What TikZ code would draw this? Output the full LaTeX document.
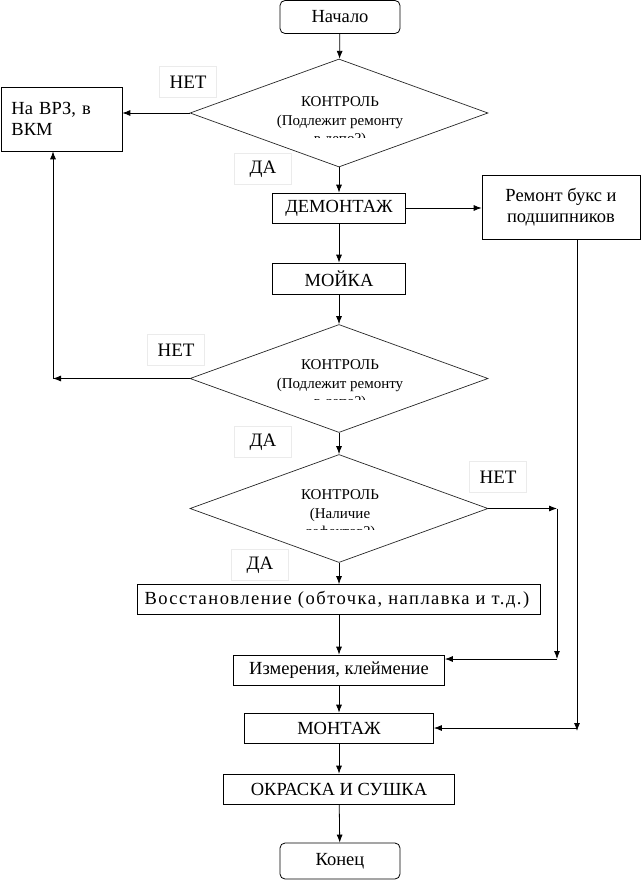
\documentclass[tikz,border=0pt]{standalone}
\usepackage{fontspec}
\setmainfont{Liberation Serif}
\usetikzlibrary{shapes.geometric,arrows.meta,positioning}

\begin{document}
\begin{tikzpicture}[
    x=1pt, y=-1pt,
    font=\fontsize{18.5}{21}\selectfont,
    terminal/.style={
        rectangle, rounded corners=5pt, draw=black, line width=0.8pt,
        minimum width=120, minimum height=33, inner sep=0pt
    },
    process/.style={
        rectangle, draw=black, line width=0.7pt,
        minimum height=30, inner sep=0pt
    },
    decision/.style={
        diamond, draw=black!85, line width=0.7pt,
        minimum width=298, minimum height=108, inner sep=0pt
    },
    ctrlText/.style={
        align=center, inner sep=0pt, font=\fontsize{15}{18.5}\selectfont
    },
    answer/.style={
        rectangle, draw=black!8, fill=white, line width=0.6pt,
        minimum width=57, minimum height=31, inner sep=0pt,
        font=\fontsize{19}{21}\selectfont
    },
    flowEdge/.style={
        -{Latex[length=8pt, width=6pt]}, line width=0.8pt, draw=black
    }
]
\useasboundingbox (0,0) rectangle (643,880);

% Start and first check
\node[terminal] (start) at (340,17) {Начало};
\node[decision] (ctrl1) at (339,113) {};
\begin{scope}
    \clip (240,90) rectangle (440,137);
    \node[ctrlText] (ctrl1text) at (340,122) {КОНТРОЛЬ\\(Подлежит ремонту\\в депо?)};
\end{scope}
\node[answer] (no1) at (188,82) {НЕТ};
\node[answer] (yes1) at (263,169) {ДА};
\node[process, minimum width=121, minimum height=64, text width=100, align=left] (vrz) at (61.5,119) {На ВРЗ, в\\ВКМ};

% Dismounting, axle boxes, washing
\node[process, minimum width=133] (dismount) at (339,208) {ДЕМОНТАЖ};
\node[process, minimum width=158, minimum height=64, align=center] (axlebox) at (561,207.5) {Ремонт букс и\\подшипников};
\node[process, minimum width=133, minimum height=31] (washing) at (339,278.5) {МОЙКА};

% Second check
\node[decision] (ctrl2) at (339,378.5) {};
\begin{scope}
    \clip (240,350) rectangle (440,399);
    \node[ctrlText] (ctrl2text) at (340,385) {КОНТРОЛЬ\\(Подлежит ремонту\\в депо?)};
\end{scope}
\node[answer] (no2) at (176,350) {НЕТ};
\node[answer] (yes2) at (263,442) {ДА};

% Third check
\node[decision] (ctrl3) at (339,508.5) {};
\begin{scope}
    \clip (240,480) rectangle (440,529);
    \node[ctrlText] (ctrl3text) at (340,515) {КОНТРОЛЬ\\(Наличие\\дефектов?)};
\end{scope}
\node[answer] (no3) at (498,477) {НЕТ};
\node[answer] (yes3) at (260,565) {ДА};

% Repair, measuring, assembly, painting, end
\node[process, minimum width=403, text width=389, align=left] (restore) at (339,599.5) {\addfontfeature{LetterSpace=8}Восстановление (обточка, наплавка и т.д.)};
\node[process, minimum width=211] (measure) at (339,670) {Измерения, клеймение};
\node[process, minimum width=189] (mount) at (339,728) {МОНТАЖ};
\node[process, minimum width=231] (paint) at (339,789) {ОКРАСКА И СУШКА};
\node[terminal, minimum height=36] (finish) at (340,861) {Конец};

% Bends of the side branches
\coordinate (leftBend) at (53,378.5);
\coordinate (rightBend) at (557,508.5);
\coordinate (rightLow) at (557,659);
\coordinate (boxLow) at (577,728);

% Main column
\draw[flowEdge] (start) -- (ctrl1);
\draw[flowEdge] (ctrl1) -- (dismount);
\draw[flowEdge] (dismount) -- (washing);
\draw[flowEdge] (washing) -- (ctrl2);
\draw[flowEdge] (ctrl2) -- (ctrl3);
\draw[flowEdge] (ctrl3) -- (restore);
\draw[flowEdge] (restore) -- (measure);
\draw[flowEdge] (measure) -- (mount);
\draw[flowEdge] (mount) -- (paint);
\draw[flowEdge] (paint) -- (finish);

% Branches
\draw[flowEdge] (ctrl1.west) -- (ctrl1.west -| vrz.east);
\draw[flowEdge] (dismount.east) -- (dismount.east -| axlebox.west);
\draw[flowEdge] (ctrl2.west) -- (leftBend);
\draw[flowEdge] (leftBend) -- (leftBend |- vrz.south);
\draw[flowEdge] (ctrl3.east) -- (rightBend);
\draw[flowEdge] (rightBend) -- (rightLow);
\draw[flowEdge] (rightLow) -- (rightLow -| measure.east);
\draw[flowEdge] (axlebox.south -| boxLow) -- ([yshift=-3pt]boxLow);
\draw[flowEdge] (boxLow) -- (mount.east);

\end{tikzpicture}
\end{document}
